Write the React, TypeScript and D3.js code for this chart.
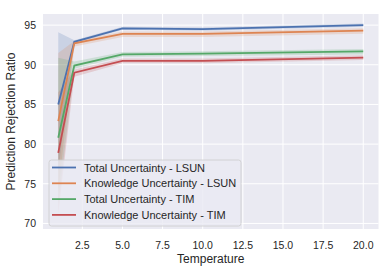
import React from "react";
import * as d3 from "d3";

const temps = [1, 2, 5, 10, 20];

const seriesNames = [
  "Total Uncertainty - LSUN",
  "Knowledge Uncertainty - LSUN",
  "Total Uncertainty - TIM",
  "Knowledge Uncertainty - TIM",
];

const totalLsun = [85.0, 92.9, 94.6, 94.5, 95.0];
const totalLsunLo = [76.5, 92.7, 94.4, 94.3, 94.8];
const totalLsunHi = [94.1, 93.1, 94.8, 94.7, 95.2];

const knowLsun = [82.9, 92.7, 93.9, 93.9, 94.3];
const knowLsunLo = [74.0, 92.3, 93.5, 93.5, 93.9];
const knowLsunHi = [91.5, 93.0, 94.2, 94.2, 94.6];

const totalTim = [80.8, 89.9, 91.3, 91.4, 91.7];
const totalTimLo = [72.5, 89.5, 91.0, 91.1, 91.3];
const totalTimHi = [90.9, 90.4, 91.6, 91.7, 92.0];

const knowTim = [78.9, 89.0, 90.5, 90.5, 90.9];
const knowTimLo = [71.3, 88.5, 90.2, 90.2, 90.6];
const knowTimHi = [86.5, 89.4, 90.8, 90.8, 91.2];

const xTicks = [2.5, 5.0, 7.5, 10.0, 12.5, 15.0, 17.5, 20.0];
const yTicks = [70, 75, 80, 85, 90, 95];

const colors = ["#4C72B0", "#DD8452", "#55A868", "#C44E52"];

const W = 391;
const H = 271;
const margin = { top: 14, right: 12.5, bottom: 42, left: 43 };

export default function App() {
  const x = d3.scaleLinear().domain([0.05, 20.95]).range([margin.left, W - margin.right]);
  const y = d3.scaleLinear().domain([69.3, 96.4]).range([H - margin.bottom, margin.top]);

  const series = [
    { mean: totalLsun, lo: totalLsunLo, hi: totalLsunHi },
    { mean: knowLsun, lo: knowLsunLo, hi: knowLsunHi },
    { mean: totalTim, lo: totalTimLo, hi: totalTimHi },
    { mean: knowTim, lo: knowTimLo, hi: knowTimHi },
  ];

  const line = d3.line<number>().x((d, i) => x(temps[i])).y(d => y(d));
  const font = "'Liberation Sans', Arial, sans-serif";
  const textColor = "#262626";

  const legendX = 49;
  const legendY = 160;
  const rowH = 15.8;

  return (
    <svg width={W} height={H} style={{ position: "absolute", left: 0, top: 0 }} fontFamily={font}>
      <rect x={0} y={0} width={W} height={H} fill="#fff" />
      <rect x={margin.left} y={margin.top} width={W - margin.right - margin.left} height={H - margin.bottom - margin.top} fill="#EAEAF2" />
      {xTicks.map(t => (
        <line key={"gx" + t} x1={x(t)} x2={x(t)} y1={margin.top} y2={H - margin.bottom} stroke="#fff" strokeWidth={1} />
      ))}
      {yTicks.map(t => (
        <line key={"gy" + t} x1={margin.left} x2={W - margin.right} y1={y(t)} y2={y(t)} stroke="#fff" strokeWidth={1} />
      ))}
      {series.map((s, k) => {
        const area = d3.area<number>()
          .x((d, i) => x(temps[i]))
          .y0((d, i) => y(s.lo[i]))
          .y1((d, i) => y(s.hi[i]));
        return <path key={"a" + k} d={area(s.mean) || ""} fill={colors[k]} fillOpacity={0.2} stroke="none" />;
      })}
      {series.map((s, k) => (
        <path key={"l" + k} d={line(s.mean) || ""} fill="none" stroke={colors[k]} strokeWidth={1.8} />
      ))}
      {xTicks.map(t => (
        <text key={"tx" + t} x={x(t)} y={H - margin.bottom + 19.5} textAnchor="middle" fontSize={10.5} fill={textColor}>
          {t.toFixed(1)}
        </text>
      ))}
      {yTicks.map(t => (
        <text key={"ty" + t} x={margin.left - 7} y={y(t) + 4} textAnchor="end" fontSize={10.5} fill={textColor}>
          {t}
        </text>
      ))}
      <text x={(margin.left + W - margin.right) / 2} y={H - 8.5} textAnchor="middle" fontSize={12} fill={textColor}>
        Temperature
      </text>
      <text transform={`translate(15,${(margin.top + H - margin.bottom) / 2}) rotate(-90)`} textAnchor="middle" fontSize={12} fill={textColor}>
        Prediction Rejection Ratio
      </text>
      <rect x={legendX} y={legendY} width={192} height={66} rx={2.5} fill="#EAEAF2" fillOpacity={0.8} stroke="#cccccc" strokeWidth={0.8} />
      {seriesNames.map((n, k) => (
        <g key={"lg" + k}>
          <line x1={legendX + 3} x2={legendX + 27} y1={legendY + 7.5 + k * rowH} y2={legendY + 7.5 + k * rowH} stroke={colors[k]} strokeWidth={1.8} />
          <text x={legendX + 35} y={legendY + 11.5 + k * rowH} fontSize={11} fill={textColor}>{n}</text>
        </g>
      ))}
    </svg>
  );
}
